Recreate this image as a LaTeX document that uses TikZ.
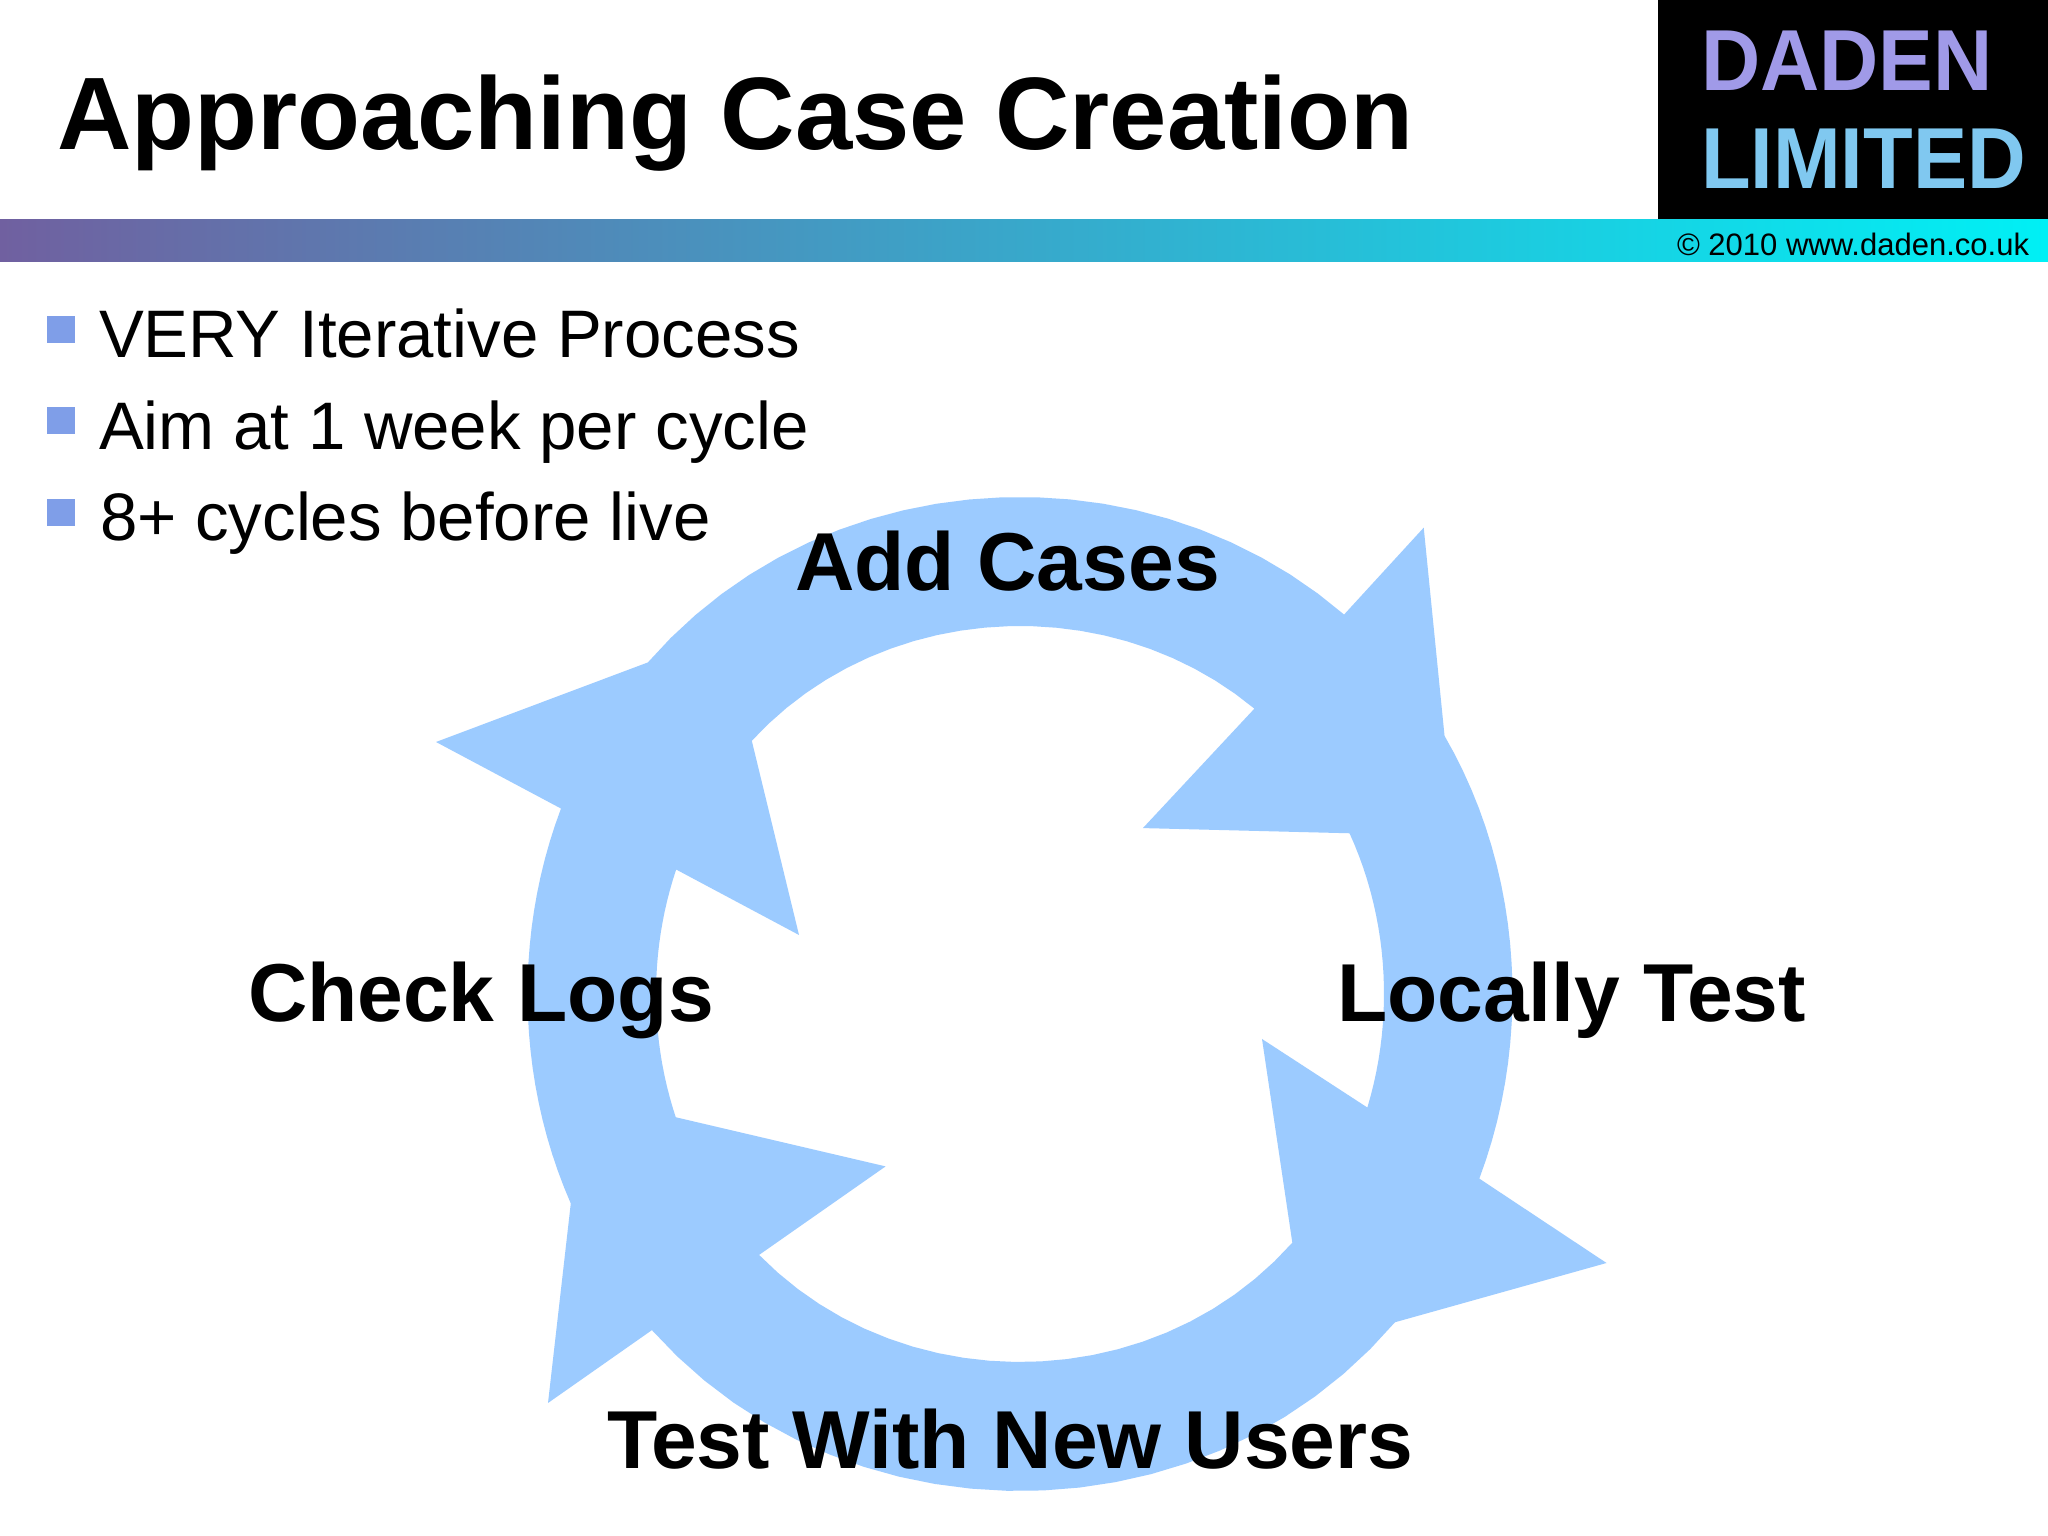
\documentclass[tikz,border=0pt]{standalone}
\usepackage{graphicx}
\usepackage{fontspec}
\setmainfont{Liberation Sans}
\definecolor{ringblue}{RGB}{156,203,255}
\definecolor{bulletblue}{RGB}{127,158,232}
\definecolor{barleft}{RGB}{112,96,160}
\definecolor{barright}{RGB}{0,240,245}
\definecolor{dadenviolet}{RGB}{160,154,232}
\definecolor{dadenblue}{RGB}{128,200,240}
\tikzset{
  lbl/.style={inner sep=0pt,outer sep=0pt,anchor=base west,text=black},
  titletext/.style={lbl,font=\fontsize{51.5}{52}\selectfont\bfseries},
  bullettext/.style={lbl,font=\fontsize{33.6}{34}\selectfont},
  cycletext/.style={lbl,font=\fontsize{41.1}{42}\selectfont\bfseries},
  logotext/.style={lbl,font=\fontsize{43.3}{44}\selectfont\bfseries},
  bulletmark/.style={fill=bulletblue},
  edge/.style={samples=24,variable=\t},
}
% radius of the slightly squared ring as a function of the polar angle \t
\newcommand{\Ro}{(492.5+4.5*sin(\t)*sin(\t)+4*sin(2*\t)*sin(2*\t))}
\newcommand{\Ri}{(364+4*sin(\t)*sin(\t)+3*sin(2*\t)*sin(2*\t))}
\begin{document}
\begin{tikzpicture}[x=0.5pt,y=0.5pt]
\useasboundingbox (0,0) rectangle (2048,1535);
\fill[white] (0,0) rectangle (2048,1535);
% header
\fill[black] (1658,1315) rectangle (2048,1535);
\shade[left color=barleft,right color=barright,shading angle=90] (0,1273) rectangle (2048,1315);
\node[titletext] (title) at (57,1385) {Approaching Case Creation};
\node[logotext,text=dadenviolet] (logoa) at (1701,1444) {\scalebox{.947}[1]{DADEN}};
\node[logotext,text=dadenblue] (logob) at (1701,1346) {\scalebox{.938}[1]{LIMITED}};
\node[lbl,font=\fontsize{15.5}{16}\selectfont] (copy) at (1677,1279) {© 2010 www.daden.co.uk};
% bullets
\fill[bulletmark] (47,1192) rectangle (75,1219);
\fill[bulletmark] (47,1101) rectangle (75,1128);
\fill[bulletmark] (47,1009) rectangle (75,1036);
\node[bullettext] (ba) at (99,1177) {VERY Iterative Process};
\node[bullettext] (bb) at (99,1085) {Aim at 1 week per cycle};
\node[bullettext] (bc) at (100,994) {8+ cycles before live};
% ring
\fill[ringblue,even odd rule]
  plot[edge,domain=31.3:-21.9] ({1020+\Ro*cos(\t)},{541+\Ro*sin(\t)}) -- (1606.5,272)
  -- plot[edge,domain=-41.2:-137.6] ({1020+\Ro*cos(\t)},{541+\Ro*sin(\t)}) -- (548,132)
  -- plot[edge,domain=-155:-202] ({1020+\Ro*cos(\t)},{541+\Ro*sin(\t)}) -- (436,793)
  -- plot[edge,domain=-221.7:-310.5] ({1020+\Ro*cos(\t)},{541+\Ro*sin(\t)}) -- (1423.7,1007.3) -- cycle
  plot[edge,domain=50.6:136.65] ({1020+\Ri*cos(\t)},{541+\Ri*sin(\t)}) -- (799,600)
  -- plot[edge,domain=160.1:199.7] ({1020+\Ri*cos(\t)},{541+\Ri*sin(\t)}) -- (885.6,368.6)
  -- plot[edge,domain=225:317.6] ({1020+\Ri*cos(\t)},{541+\Ri*sin(\t)}) -- (1262,496)
  -- plot[edge,domain=341.9:386] ({1020+\Ri*cos(\t)},{541+\Ri*sin(\t)}) -- (1142.9,706.9) -- cycle;
% labels
\node[cycletext] (add) at (795,944) {Add Cases};
\node[cycletext] (logs) at (248,513) {Check Logs};
\node[cycletext] (local) at (1337,513) {Locally Test};
\node[cycletext] (users) at (607,67) {Test With New Users};
\end{tikzpicture}
\end{document}
